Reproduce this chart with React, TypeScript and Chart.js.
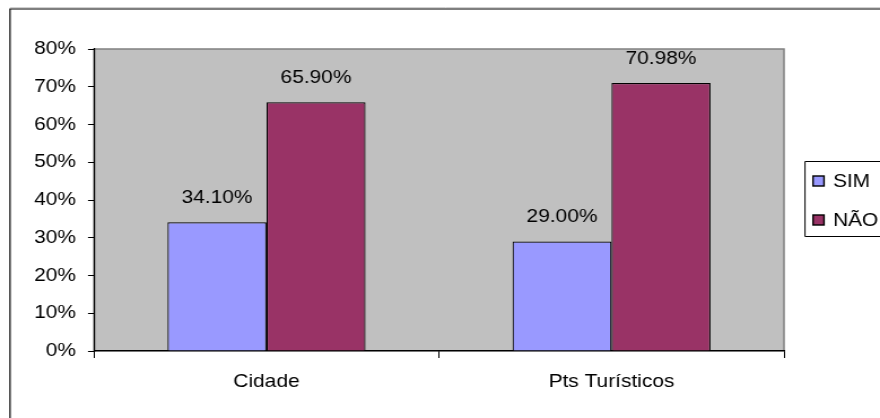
import React, { useEffect, useRef } from 'react';
import { Chart, registerables } from 'chart.js';

Chart.register(...registerables);

const categories = ['Cidade', 'Pts Turísticos'];
const seriesNames = ['SIM', 'NÃO'];
const simValues = [34.1, 29.0];
const naoValues = [65.9, 70.98];
const simLabels = ['34.10%', '29.00%'];
const naoLabels = ['65.90%', '70.98%'];
const yMin = 0;
const yMax = 80;
const yStep = 10;
const colors = ['#9999FF', '#993366'];

const TARGET_W = 880;
const H = 418;
const STRETCH = 1.13;
const CW = Math.round(TARGET_W / STRETCH);
const SX = TARGET_W / CW;
const X = (t: number) => t / SX;
const FONT_FAMILY = "'Liberation Sans', Arial, Helvetica, sans-serif";
const FONT_SIZE = 18.5;

const decorPlugin = {
  id: 'decor',
  beforeDraw(chart: any) {
    const { ctx, chartArea } = chart;
    ctx.save();
    ctx.fillStyle = '#ffffff';
    ctx.fillRect(0, 0, chart.width, chart.height);
    // outer frame
    ctx.strokeStyle = '#d0d0d0';
    ctx.lineWidth = 1;
    ctx.beginPath();
    ctx.moveTo(X(10), 7.5);
    ctx.lineTo(chart.width + 2, 7.5);
    ctx.stroke();
    ctx.strokeStyle = '#000000';
    ctx.lineWidth = 1.2;
    ctx.beginPath();
    ctx.moveTo(X(10), H + 2);
    ctx.lineTo(X(10), 9);
    ctx.lineTo(chart.width + 2, 9);
    ctx.stroke();
    // plot area
    ctx.fillStyle = '#C0C0C0';
    ctx.fillRect(chartArea.left, chartArea.top, chartArea.right - chartArea.left, chartArea.bottom - chartArea.top);
    ctx.strokeStyle = '#808080';
    ctx.lineWidth = 1.5;
    ctx.strokeRect(chartArea.left, chartArea.top, chartArea.right - chartArea.left, chartArea.bottom - chartArea.top);
    ctx.restore();
  },
  afterDatasetsDraw(chart: any) {
    const { ctx } = chart;
    const labelSets = [simLabels, naoLabels];
    ctx.save();
    ctx.font = `${FONT_SIZE}px ${FONT_FAMILY}`;
    ctx.fillStyle = '#000000';
    ctx.textAlign = 'center';
    ctx.textBaseline = 'alphabetic';
    chart.data.datasets.forEach((_ds: any, i: number) => {
      const meta = chart.getDatasetMeta(i);
      meta.data.forEach((bar: any, j: number) => {
        ctx.fillText(labelSets[i][j], bar.x, bar.y - 19.5);
      });
    });
    ctx.restore();
  },
  afterDraw(chart: any) {
    const { ctx } = chart;
    ctx.save();
    // legend box
    ctx.fillStyle = '#ffffff';
    ctx.fillRect(X(805), 162, chart.width, 75);
    ctx.strokeStyle = '#000000';
    ctx.lineWidth = 1;
    ctx.beginPath();
    ctx.moveTo(chart.width + 2, 161.5);
    ctx.lineTo(X(805), 161.5);
    ctx.lineTo(X(805), 236.5);
    ctx.lineTo(chart.width + 2, 236.5);
    ctx.stroke();
    const tops = [176, 215];
    const baselines = [186.5, 225.5];
    ctx.font = `${FONT_SIZE}px ${FONT_FAMILY}`;
    ctx.textAlign = 'left';
    ctx.textBaseline = 'alphabetic';
    seriesNames.forEach((name, i) => {
      ctx.fillStyle = colors[i];
      ctx.fillRect(X(813), tops[i], X(11), 10);
      ctx.strokeStyle = '#000000';
      ctx.lineWidth = 1.4;
      ctx.strokeRect(X(813), tops[i], X(11), 10);
      ctx.fillStyle = '#000000';
      ctx.fillText(name, X(833), baselines[i]);
    });
    ctx.restore();
  },
};

export default function App() {
  const canvasRef = useRef<HTMLCanvasElement | null>(null);

  useEffect(() => {
    document.body.style.margin = '0';
    const canvas = canvasRef.current;
    if (!canvas) return;
    const chart = new Chart(canvas, {
      type: 'bar',
      data: {
        labels: categories,
        datasets: [
          {
            label: seriesNames[0],
            data: simValues,
            backgroundColor: colors[0],
            borderColor: '#000000',
            borderWidth: 1.2,
            categoryPercentage: 0.574,
            barPercentage: 1.0,
          },
          {
            label: seriesNames[1],
            data: naoValues,
            backgroundColor: colors[1],
            borderColor: '#000000',
            borderWidth: 1.2,
            categoryPercentage: 0.574,
            barPercentage: 1.0,
          },
        ],
      },
      options: {
        responsive: false,
        animation: false,
        devicePixelRatio: 1,
        layout: { padding: { left: 0, top: 49, right: CW - X(784), bottom: 0 } },
        plugins: {
          legend: { display: false },
          tooltip: { enabled: false },
          title: { display: false },
        },
        scales: {
          x: {
            type: 'category',
            grid: {
              display: true,
              offset: true,
              drawOnChartArea: false,
              drawTicks: true,
              tickLength: 7,
              color: '#000000',
              lineWidth: 1,
            },
            border: { display: true, color: '#000000', width: 1.2 },
            ticks: {
              color: '#000000',
              font: { family: FONT_FAMILY, size: FONT_SIZE },
              padding: 13,
              maxRotation: 0,
            },
            afterFit(scale: any) {
              scale.height = H - 351;
            },
          },
          y: {
            type: 'linear',
            min: yMin,
            max: yMax,
            grid: {
              display: true,
              drawOnChartArea: false,
              drawTicks: true,
              tickLength: X(6),
              color: '#000000',
              lineWidth: 1,
            },
            border: { display: true, color: '#000000', width: 1.2 },
            ticks: {
              stepSize: yStep,
              color: '#000000',
              font: { family: FONT_FAMILY, size: FONT_SIZE },
              padding: X(12),
              callback: (v: any) => `${v}%`,
            },
            afterFit(scale: any) {
              scale.width = X(94);
            },
          },
        },
      },
      plugins: [decorPlugin],
    });
    return () => chart.destroy();
  }, []);

  return (
    <div
      style={{
        position: 'absolute',
        left: 0,
        top: 0,
        width: TARGET_W,
        height: H,
        overflow: 'hidden',
        background: '#ffffff',
      }}
    >
      <canvas
        ref={canvasRef}
        width={CW}
        height={H}
        style={{ transform: `scaleX(${SX})`, transformOrigin: '0 0', display: 'block' }}
      />
    </div>
  );
}
